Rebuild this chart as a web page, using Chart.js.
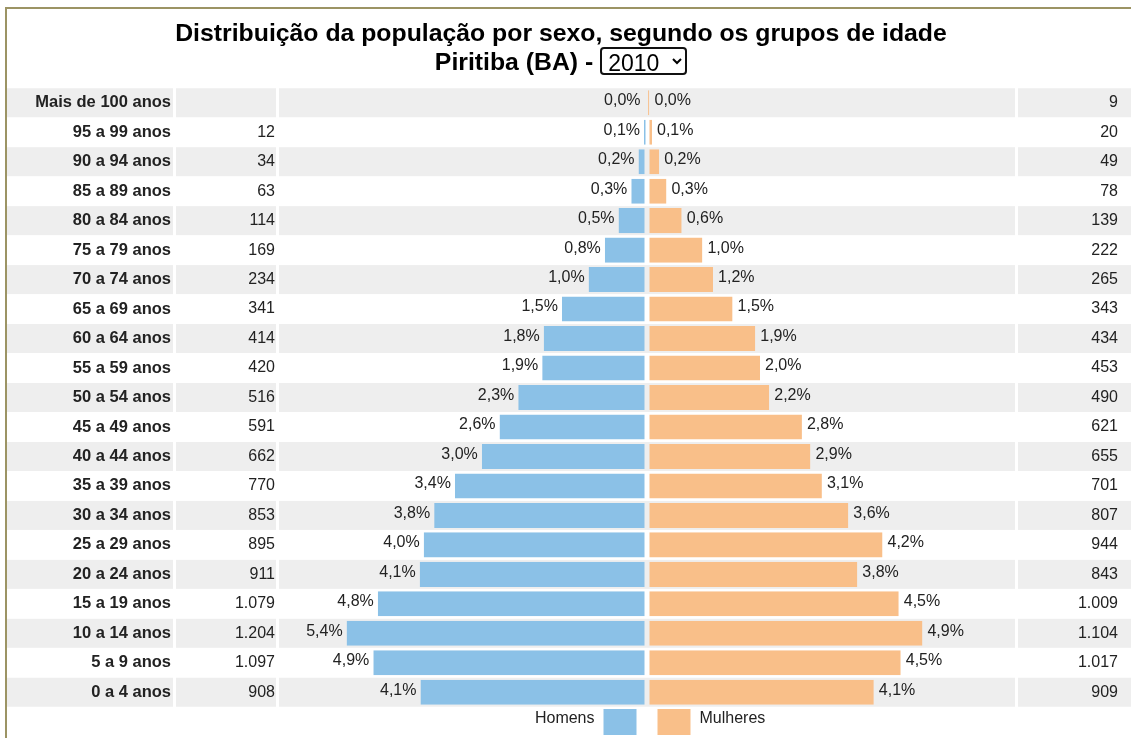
<!DOCTYPE html>
<html>

<head>
    <meta charset="utf-8">
    <title>Distribuição da população por sexo</title>
    <style>
        body { margin: 0; background: #fff; font-family: Arial, "Liberation Sans", sans-serif; }
        #frame { position: absolute; left: 5px; top: 7px; width: 1200px; height: 800px;
                 border-top: 2px solid #9c9464; border-left: 2px solid #9c9464; pointer-events: none; }
        #title { position: absolute; left: 0; top: 18px; width: 1122px; text-align: center;
                 font-weight: bold; font-size: 24.8px; line-height: 29px; color: #000; }
        #title select { font-family: Arial, "Liberation Sans", sans-serif; font-size: 23px; font-weight: normal;
                 width: 87px; height: 28px; border: 2px solid #111; border-radius: 4px; background: #fff; color: #000;
                 padding: 0 2px; vertical-align: middle; margin-top: -4px; }
        #myChart { position: absolute; left: 0; top: 0; }
    </style>
</head>

<body>
    <canvas id="myChart" width="1131" height="738"></canvas>
    <div id="frame"></div>
    <div id="title">Distribuição da população por sexo, segundo os grupos de idade<br>
        Piritiba (BA) - <select id="ano"><option>2010</option></select>
    </div>

    <script src="https://cdn.jsdelivr.net/npm/chart.js"></script>

    <script>
        // faixas etarias, de cima para baixo
        const grupos = ['Mais de 100 anos', '95 a 99 anos', '90 a 94 anos', '85 a 89 anos', '80 a 84 anos',
            '75 a 79 anos', '70 a 74 anos', '65 a 69 anos', '60 a 64 anos', '55 a 59 anos', '50 a 54 anos',
            '45 a 49 anos', '40 a 44 anos', '35 a 39 anos', '30 a 34 anos', '25 a 29 anos', '20 a 24 anos',
            '15 a 19 anos', '10 a 14 anos', '5 a 9 anos', '0 a 4 anos'];

        const homens = [0, 12, 34, 63, 114, 169, 234, 341, 414, 420, 516, 591, 662, 770, 853, 895, 911, 1079, 1204, 1097, 908];
        const mulheres = [9, 20, 49, 78, 139, 222, 265, 343, 434, 453, 490, 621, 655, 701, 807, 944, 843, 1009, 1104, 1017, 909];

        const homensPct = ['0,0', '0,1', '0,2', '0,3', '0,5', '0,8', '1,0', '1,5', '1,8', '1,9', '2,3',
            '2,6', '3,0', '3,4', '3,8', '4,0', '4,1', '4,8', '5,4', '4,9', '4,1'];
        const mulheresPct = ['0,0', '0,1', '0,2', '0,3', '0,6', '1,0', '1,2', '1,5', '1,9', '2,0', '2,2',
            '2,8', '2,9', '3,1', '3,6', '4,2', '3,8', '4,5', '4,9', '4,5', '4,1'];

        const azul = '#8bc1e7';
        const laranja = '#f9bf89';
        const cinza = '#eeeeee';
        const fonte = 'Arial, "Liberation Sans", sans-serif';

        function milhar(n) {
            if (!n) return '';
            return String(n).replace(/\B(?=(\d{3})+(?!\d))/g, '.');
        }

        // fundo cinza nas linhas alternadas, por coluna (antes dos eixos)
        const fundoLinhas = {
            id: 'fundoLinhas',
            beforeDraw(chart) {
                const ctx = chart.ctx;
                const y = chart.scales.y;
                const yL = chart.scales.yL;
                const yR = chart.scales.yR;
                const area = chart.chartArea;
                const cols = [
                    [y.left, y.right - 3],
                    [yL.left, yL.right - 3],
                    [area.left, area.right],
                    [yR.left + 3, chart.width]
                ];
                ctx.save();
                ctx.fillStyle = cinza;
                for (let i = 0; i < grupos.length; i += 2) {
                    const c = y.getPixelForValue(i);
                    cols.forEach(function(col) {
                        ctx.fillRect(col[0], c - 14.5, col[1] - col[0], 29);
                    });
                }
                ctx.restore();
            }
        };

        // rotulos de percentual e legenda
        const rotulos = {
            id: 'rotulos',
            afterDatasetsDraw(chart) {
                const ctx = chart.ctx;
                ctx.save();
                ctx.font = '16px ' + fonte;
                ctx.fillStyle = '#222';
                ctx.textBaseline = 'middle';
                chart.getDatasetMeta(0).data.forEach(function(bar, i) {
                    ctx.textAlign = 'right';
                    ctx.fillText(homensPct[i] + '%', Math.min(bar.x, bar.base - 2.5) - 4, bar.y - 2);
                });
                chart.getDatasetMeta(1).data.forEach(function(bar, i) {
                    ctx.textAlign = 'left';
                    ctx.fillText(mulheresPct[i] + '%', Math.max(bar.x, bar.base + 2.5) + 5, bar.y - 2);
                });

                // legenda
                const meio = (chart.chartArea.left + chart.chartArea.right) / 2;
                const topo = chart.chartArea.bottom + 2;
                const ds = chart.data.datasets;
                ctx.fillStyle = ds[0].backgroundColor;
                ctx.fillRect(meio - 10.5 - 33, topo, 33, 26);
                ctx.fillStyle = ds[1].backgroundColor;
                ctx.fillRect(meio + 10.5, topo, 33, 26);
                ctx.fillStyle = '#222';
                ctx.textAlign = 'right';
                ctx.fillText(ds[0].label, meio - 10.5 - 33 - 9, topo + 10);
                ctx.textAlign = 'left';
                ctx.fillText(ds[1].label, meio + 10.5 + 33 + 9, topo + 10);
                ctx.restore();
            }
        };

        const data = {
            labels: grupos,
            datasets: [{
                label: 'Homens',
                data: homens.map(v => -v),
                backgroundColor: azul,
                borderColor: 'rgba(0,0,0,0)',
                borderWidth: { top: 0, bottom: 0, left: 0, right: 2.5 },
                borderSkipped: false
            }, {
                label: 'Mulheres',
                data: mulheres,
                backgroundColor: laranja,
                borderColor: 'rgba(0,0,0,0)',
                borderWidth: { top: 0, bottom: 0, left: 2.5, right: 0 },
                borderSkipped: false
            }]
        };

        const eixoTexto = {
            type: 'category',
            offset: true,
            grid: { display: false, drawTicks: false },
            border: { display: false }
        };

        const config = {
            type: 'bar',
            data: data,
            options: {
                indexAxis: 'y',
                responsive: false,
                animation: false,
                categoryPercentage: 1,
                barPercentage: 0.85,
                layout: { padding: { top: 88, bottom: 31, left: 7, right: 13 } },
                plugins: {
                    legend: { display: false },
                    title: { display: false },
                    tooltip: { enabled: false }
                },
                scales: {
                    x: {
                        stacked: true,
                        min: -1475,
                        max: 1475,
                        display: false
                    },
                    y: Object.assign({}, eixoTexto, {
                        stacked: true,
                        position: 'left',
                        weight: 10,
                        afterFit(s) { s.width = 169; },
                        ticks: { autoSkip: false, padding: 5, color: '#222', font: { family: fonte, size: 16.5, weight: 'bold' } }
                    }),
                    yL: Object.assign({}, eixoTexto, {
                        position: 'left',
                        weight: 0,
                        labels: homens.map(milhar),
                        afterFit(s) { s.width = 103; },
                        ticks: { autoSkip: false, padding: 4, color: '#222', font: { family: fonte, size: 16 } }
                    }),
                    yR: Object.assign({}, eixoTexto, {
                        position: 'right',
                        labels: mulheres.map(milhar),
                        afterFit(s) { s.width = 103; },
                        ticks: { autoSkip: false, padding: 4, crossAlign: 'far', color: '#222', font: { family: fonte, size: 16 } }
                    })
                }
            },
            plugins: [fundoLinhas, rotulos]
        };

        const myChart = new Chart(document.getElementById('myChart'), config);
    </script>

</body>

</html>
